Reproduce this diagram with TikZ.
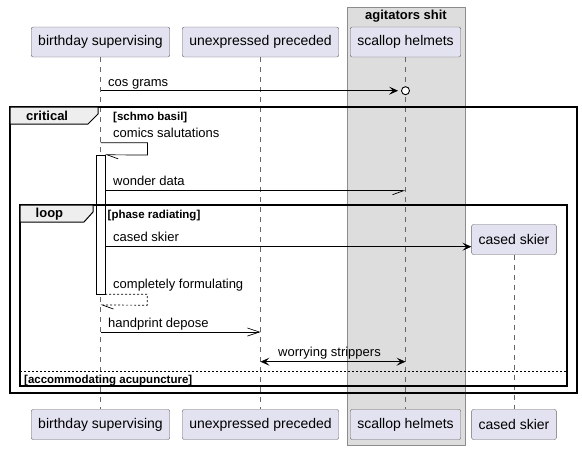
\documentclass[tikz,border=0pt]{standalone}
\usepackage{fontspec}
\setmainfont{Liberation Sans}
\usetikzlibrary{arrows.meta}
\usetikzlibrary{calc}

\definecolor{partfill}{HTML}{E2E2F0}
\definecolor{boxfill}{HTML}{DDDDDD}
\definecolor{tabfill}{HTML}{EEEEEE}

\tikzset{
fullhead/.tip={Stealth[length=9pt, width=8pt, inset=4pt]},
openhead/.tip={Straight Barb[length=12pt, width=8pt, line width=.7pt]},
halfhead/.tip={Straight Barb[harpoon, length=11pt, width=8pt, line width=.7pt]},
halfheadsw/.tip={Straight Barb[harpoon, swap, length=11pt, width=8pt, line width=.7pt]}
}

\begin{document}
\begin{tikzpicture}[x=1pt, y=-1pt,
part/.style={draw=black!60, fill=partfill, rounded corners=2pt, minimum height=30pt, inner xsep=7pt, font=\fontsize{14}{16}\selectfont},
lifeline/.style={draw=black!60, dash pattern=on 5pt off 5pt, line width=.6pt},
msg/.style={line width=.7pt},
lbl/.style={anchor=base west, inner sep=0pt, font=\fontsize{13}{15}\selectfont},
hdr/.style={anchor=base west, inner sep=0pt, font=\fontsize{11.5}{13}\selectfont\bfseries},
title/.style={anchor=base west, inner sep=0pt, font=\fontsize{13}{15}\selectfont\bfseries},
frame/.style={line width=1.5pt},
tab/.style={fill=tabfill, draw, line width=1pt},
act/.style={draw, fill=white, minimum width=9pt, minimum height=139pt, inner sep=0pt},
circ/.style={draw, fill=white, circle, minimum size=8pt, inner sep=0pt, line width=.9pt}]

\useasboundingbox[fill=white] (0,0) rectangle (582,450);

\draw[draw=black!45, fill=boxfill] (347,7) rectangle (465,445);
\node[title, anchor=base] (box) at (406,19) {agitators shit};

\foreach \n/\x/\t in {bs/100.5/birthday supervising, up/260.5/unexpressed preceded, sh/405.5/scallop helmets}
{
\node[part] (top-\n) at (\x,42) {\t};
\node[part] (bot-\n) at (\x,424.5) {\t};
\draw[lifeline] (top-\n) -- (bot-\n);
}
\node[part] (top-cs) at (514,239.5) {cased skier};
\node[part] (bot-cs) at (514,424.5) {cased skier};
\draw[lifeline] (top-cs) -- (bot-cs);

\coordinate (r1) at (0,90.7);
\coordinate (r2) at (0,142.7);
\coordinate (r3) at (0,190.7);
\coordinate (r4) at (0,246.7);
\coordinate (r5) at (0,305);
\coordinate (r6) at (0,332);
\coordinate (r7) at (0,361.7);

%%%%%%%%%%%%
\node[circ] (o1) at (top-sh |- r1) {};
\draw[msg, -fullhead, shorten >=3pt] (top-bs |- r1) -- (o1);
\node[lbl] (l1) at (108,86) {cos grams};

%%%%%%%%%%%%
\draw[frame] (10,107) rectangle (577,393);
\draw[tab] (10,107) -- (98,107) -- (98,114) -- (88,124) -- (10,124) -- cycle;
\node[title] (crit) at (26,120.5) {critical};
\node[hdr] (g1) at (113,120) {[schmo basil]};

\node[act] (act) at (100.5,224.5) {};
\draw[msg, -halfhead] (top-bs |- r2) -- ++(47,0) -- ++(0,12.3) -- (act.north east);
\node[lbl] (l2) at (113,137.5) {comics salutations};

\draw[msg, -halfheadsw] (act.east |- r3) -- (top-sh |- r3);
\node[lbl] (l3) at (113,185.7) {wonder data};

%%%%%%%%%%%%
\draw[frame] (20,205) rectangle (567,386);
\draw[tab] (20,205) -- (93,205) -- (93,212) -- (84,222) -- (20,222) -- cycle;
\node[title] (loop) at (35.5,217.5) {loop};
\node[hdr] (g2) at (107.5,218) {[phase radiating]};

\draw[msg, -fullhead] (act.east |- r4) -- (top-cs.west |- r4);
\node[lbl] (l4) at (113,241.7) {cased skier};

\draw[msg, dash pattern=on 2pt off 2pt, -halfhead] (act.south east) -- ++(42,0) -- ++(0,11) -- (top-bs |- r5);
\node[lbl] (l5) at (113,288) {completely formulating};

\draw[msg, -openhead] (top-bs |- r6) -- (top-up |- r6);
\node[lbl] (l6) at (108,327) {handprint depose};

\draw[msg, fullhead-fullhead] (top-up |- r7) -- (top-sh |- r7);
\node[lbl] (l7) at (278,356.7) {worrying strippers};

\draw[dash pattern=on 2pt off 2pt, line width=.6pt] (20,371) -- (567,371);
\node[hdr] (g3) at (24,383) {[accommodating acupuncture]};
\end{tikzpicture}
\end{document}
